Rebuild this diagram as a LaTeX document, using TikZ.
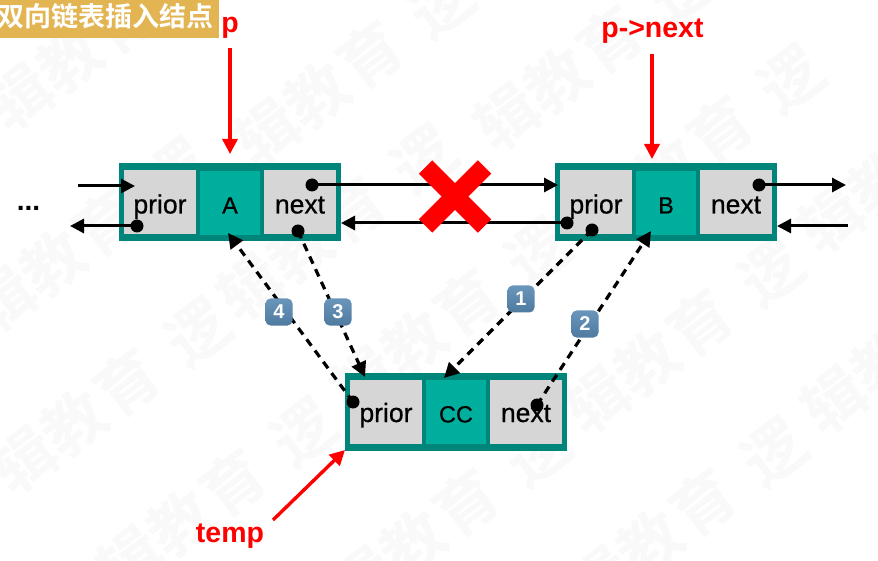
\documentclass[tikz,border=0pt]{standalone}
\usepackage{fontspec}
\setmainfont{Liberation Sans}
\newfontfamily\medfont{Liberation Sans}[FakeBold=0.6]
\newfontfamily\cjk{Noto Sans CJK SC}[BoldFont={* Bold}]
\usetikzlibrary{arrows.meta}
\definecolor{boxteal}{HTML}{00857A}
\definecolor{midteal}{HTML}{00AE9E}
\definecolor{cellgray}{HTML}{D6D6D6}
\definecolor{titlegold}{HTML}{E3B552}
\definecolor{badgetop}{HTML}{6A96BC}
\definecolor{badgebot}{HTML}{4F7A9F}
\definecolor{wm}{HTML}{F9F9F9}
\newcommand{\fs}[1]{\fontsize{#1}{#1}\selectfont}
\tikzset{
 x=1pt,y=-1pt,
 outerbox/.style={draw=none,fill=boxteal,minimum width=222pt,minimum height=78pt,inner sep=0pt},
 cellbox/.style={fill=cellgray,minimum width=72pt,minimum height=64pt,inner sep=0pt,font=\medfont\fs{26.5},text height=23pt,text depth=0pt},
 databox/.style={fill=midteal,minimum width=60pt,minimum height=64pt,inner sep=0pt,font=\medfont\fs{23.5},text height=21pt,text depth=0pt},
 dot/.style={circle,fill=black,minimum size=13pt,inner sep=0pt},
 link/.style={black,line width=3pt,-{Triangle[length=14pt,width=14pt]}},
 dlink/.style={black,line width=3.2pt,dash pattern=on 8pt off 6pt,-{Triangle[length=15pt,width=15pt]}},
 redlink/.style={red,line width=3.4pt,-{Triangle[length=15pt,width=15pt]}},
 redlabel/.style={red,font=\fs{28.5}\bfseries},
 badge/.style={rounded corners=5pt,top color=badgetop,bottom color=badgebot,minimum size=27pt,inner sep=0pt,text=white,font=\fs{20}\bfseries},
 mark text/.style={wm,font=\cjk\fs{62}\bfseries,rotate=37,inner sep=0pt},
}
\begin{document}
\begin{tikzpicture}
\useasboundingbox (0,0) rectangle (878,561);
\fill[white] (0,0) rectangle (878,561);
% watermark: each group is anchored on its fourth character
\foreach \px/\py in {123/20, 370/55, 106/223, 610/40, 127/383, 353/210, 233/483, 467/303, 720/130, 466/503, 700/323, 934/143, 703/503, 937/323}{
  \node[mark text] at (\px+71,\py-50) {逻};
  \node[mark text] at (\px-103,\py+77) {辑};
  \node[mark text] at (\px-53,\py+40) {教};
  \node[mark text] at (\px,\py) {育};
}
% title
\node[fill=titlegold,minimum width=219pt,minimum height=38pt,inner sep=0pt] (title) at (109.5,19) {};
\node[text=white,font=\cjk\fs{27}\bfseries,inner sep=0pt] (titletext) at (106,16) {双向链表插入结点};
% nodes
\node[outerbox] (A) at (230,202) {};
\node[outerbox] (B) at (665.5,202) {};
\node[outerbox] (C) at (456,411.5) {};
\node[cellbox] (Ap) at (160,202) {prior};
\node[databox] (Ad) at (230,203) {A};
\node[cellbox] (An) at (300,202) {next};
\node[cellbox] (Bp) at (596,202) {prior};
\node[databox] (Bd) at (666,203) {B};
\node[cellbox] (Bn) at (736,202) {next};
\node[cellbox,text height=21pt] (Cp) at (386,411.5) {prior};
\node[databox] (Cd) at (456,412) {CC};
\node[cellbox,text height=21pt] (Cn) at (526,411.5) {next};
% labels
\node[font=\fs{28}\bfseries,inner sep=0pt] (dots) at (28.5,208) {...};
\node[redlabel,inner sep=0pt] (plabel) at (230,28) {p};
\node[redlabel,inner sep=0pt] (pnlabel) at (652.5,31) {p->next};
\node[redlabel,inner sep=0pt] (templabel) at (230,536) {temp};
% free ends and dots
\coordinate (c1) at (78,186);
\coordinate (c2) at (135,186);
\coordinate (c3) at (70,226);
\coordinate (c4) at (558,185);
\coordinate (c5) at (341,223);
\coordinate (c6) at (846,185);
\coordinate (c7) at (848,226);
\coordinate (c8) at (777,226);
\coordinate (pa) at (230,48);
\coordinate (pb) at (230,154);
\coordinate (qa) at (652,54);
\coordinate (qb) at (652,159);
\coordinate (ta) at (273,520);
\coordinate (tb) at (345,450);
\coordinate (d3) at (365,377);
\coordinate (dA) at (228,233);
\coordinate (d1) at (444,378);
\coordinate (dB) at (651,231);
\node[dot] (Apd) at (137,226) {};
\node[dot] (And) at (312,185) {};
\node[dot] (And2) at (298,231) {};
\node[dot] (Bpd) at (567,223) {};
\node[dot] (Bpd2) at (592,230) {};
\node[dot] (Bnd) at (759,185) {};
\node[dot] (Cpd) at (353,402) {};
\node[dot] (Cnd) at (537,405) {};
% connectors
\draw[link] (c1) -- (c2);
\draw[link] (Apd.center) -- (c3);
\draw[link] (And.center) -- (c4);
\draw[link] (Bpd.center) -- (c5);
\draw[link] (Bnd.center) -- (c6);
\draw[link] (c7) -- (c8);
\draw[redlink] (pa) -- (pb);
\draw[redlink] (qa) -- (qb);
\draw[redlink] (ta) -- (tb);
\draw[dlink] (And2.center) -- (d3);
\draw[dlink] (Cpd.center) -- (dA);
\draw[dlink] (Bpd2.center) -- (d1);
\draw[dlink] (Cnd.center) -- (dB);
% cross
\draw[red,line width=19pt] (425.5,167) -- (484.5,226);
\draw[red,line width=19pt] (484.5,167) -- (425.5,226);
% badges
\node[badge] (b4) at (279,312) {4};
\node[badge] (b3) at (338,312) {3};
\node[badge] (b1) at (521,299) {1};
\node[badge] (b2) at (585,324) {2};
\end{tikzpicture}
\end{document}
